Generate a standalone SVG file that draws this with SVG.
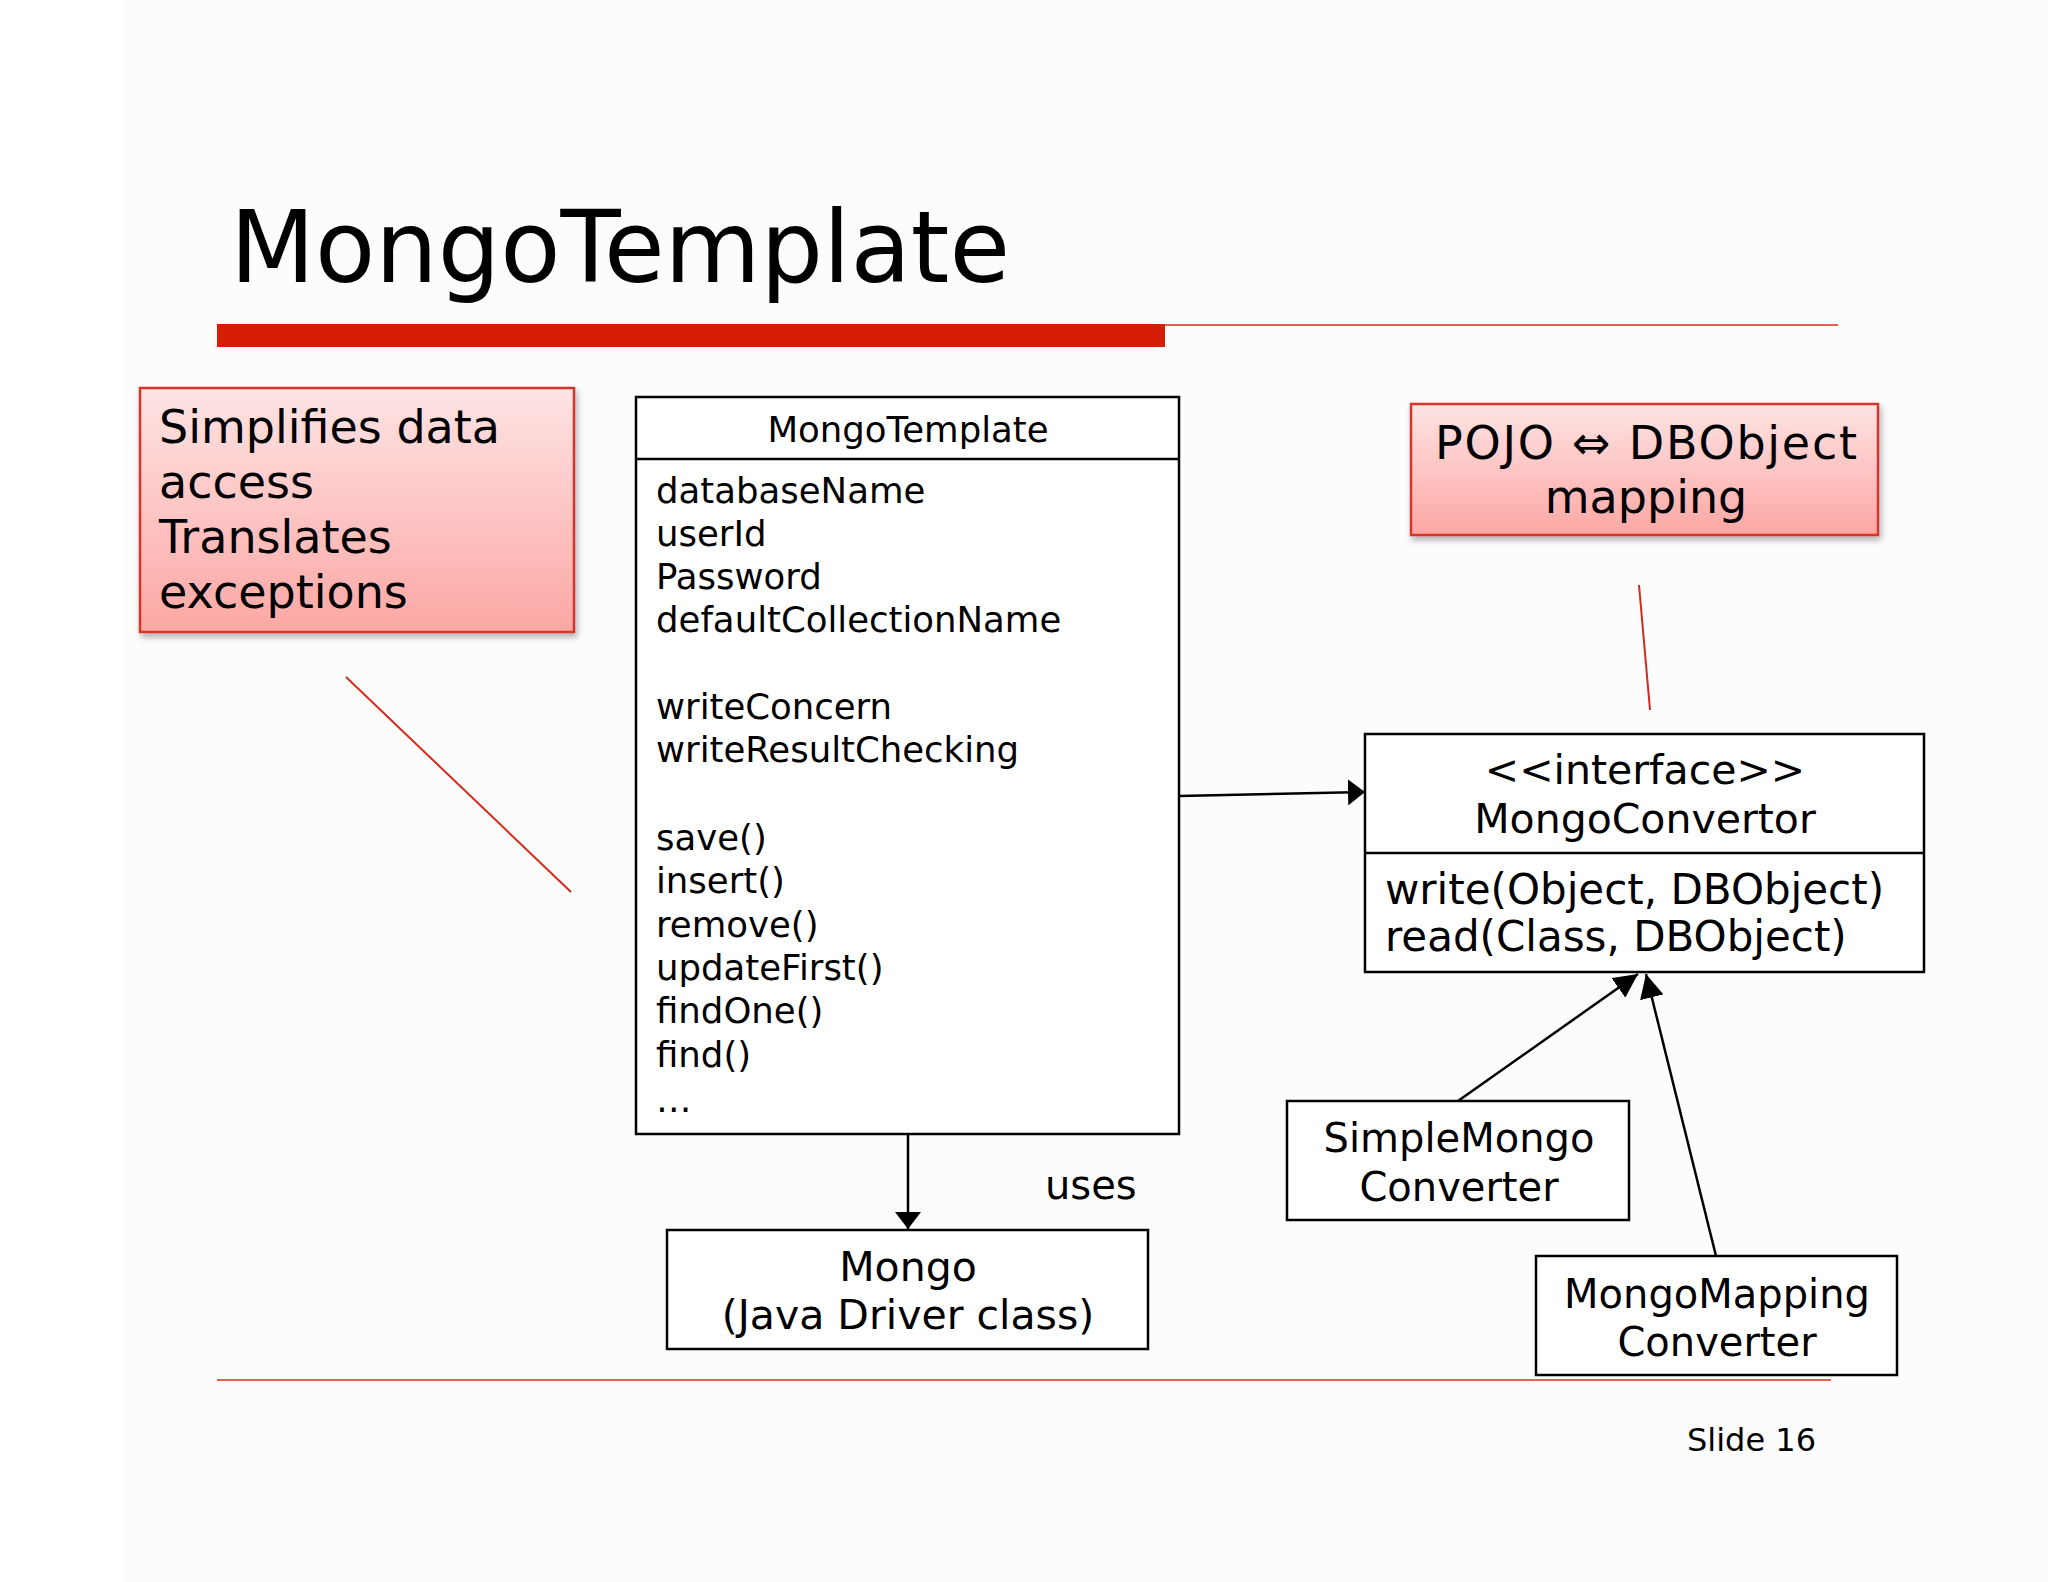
<svg xmlns="http://www.w3.org/2000/svg" width="2048" height="1582" viewBox="0 0 2048 1582">
  <defs>
    <linearGradient id="pink" x1="0" y1="0" x2="0" y2="1">
      <stop offset="0" stop-color="#fde4e4"/>
      <stop offset="1" stop-color="#fca7a4"/>
    </linearGradient>
    <filter id="shadow" x="-10%" y="-10%" width="120%" height="130%">
      <feDropShadow dx="2" dy="4" stdDeviation="3" flood-color="#000" flood-opacity="0.3"/>
    </filter>
    <marker id="headShort" markerUnits="userSpaceOnUse" markerWidth="18" markerHeight="26" refX="17" refY="13" orient="auto">
      <path d="M0,0 L17,13 L0,26 Z" fill="#000"/>
    </marker>
    <marker id="headLong" markerUnits="userSpaceOnUse" markerWidth="26" markerHeight="24" refX="24" refY="12" orient="auto">
      <path d="M0,0 L24,12 L0,24 Z" fill="#000"/>
    </marker>
    <style>
      text { font-family: "DejaVu Sans", Verdana, sans-serif; fill: #000; }
      .box { fill: #fff; stroke: #000; stroke-width: 2.5; }
      .note { fill: url(#pink); stroke: #d8362c; stroke-width: 2.5; filter: url(#shadow); }
      .conn { fill: none; stroke: #000; stroke-width: 2.5; }
      .callout { fill: none; stroke: #d42a1c; stroke-width: 2; }
      .attr { font-size: 35.5px; }
      .mid { text-anchor: middle; }
    </style>
  </defs>

  <rect x="0" y="0" width="2048" height="1582" fill="#ffffff"/>
  <rect x="125" y="0" width="1923" height="1582" fill="#fdfcfc"/>

  <!-- title -->
  <g id="title">
    <text x="230" y="282" font-size="100" textLength="780" lengthAdjust="spacingAndGlyphs">MongoTemplate</text>
    <rect x="217" y="324" width="948" height="23" fill="#d51e05"/>
    <line x1="1165" y1="325" x2="1838" y2="325" stroke="#d8301a" stroke-width="1.6"/>
  </g>

  <!-- footer -->
  <g id="footer">
    <line x1="217" y1="1380" x2="1831" y2="1380" stroke="#d8301a" stroke-width="1.6"/>
    <text x="1687" y="1451" font-size="32">Slide 16</text>
  </g>

  <!-- note: simplifies -->
  <g id="note-simplifies">
    <rect class="note" x="140" y="388" width="434" height="244"/>
    <text x="159" y="443" font-size="46">Simplifies data</text>
    <text x="159" y="498" font-size="46">access</text>
    <text x="159" y="553" font-size="46">Translates</text>
    <text x="159" y="608" font-size="46">exceptions</text>
  </g>

  <!-- note: POJO -->
  <g id="note-pojo">
    <rect class="note" x="1411" y="404" width="467" height="131"/>
    <text class="mid" x="1646" y="459" font-size="46" textLength="422" lengthAdjust="spacing">POJO ⇔ DBObject</text>
    <text class="mid" x="1646" y="513" font-size="46">mapping</text>
  </g>

  <!-- MongoTemplate class -->
  <g id="mongotemplate">
    <rect class="box" x="636" y="397" width="543" height="737"/>
    <line class="conn" x1="636" y1="459" x2="1179" y2="459"/>
    <text class="attr mid" x="908" y="442">MongoTemplate</text>
    <text class="attr" x="656" y="503">databaseName</text>
    <text class="attr" x="656" y="546">userId</text>
    <text class="attr" x="656" y="589">Password</text>
    <text class="attr" x="656" y="632">defaultCollectionName</text>
    <text class="attr" x="656" y="719">writeConcern</text>
    <text class="attr" x="656" y="762">writeResultChecking</text>
    <text class="attr" x="656" y="850">save()</text>
    <text class="attr" x="656" y="893">insert()</text>
    <text class="attr" x="656" y="937">remove()</text>
    <text class="attr" x="656" y="980">updateFirst()</text>
    <text class="attr" x="656" y="1023">findOne()</text>
    <text class="attr" x="656" y="1067">find()</text>
    <text class="attr" x="656" y="1112">…</text>
  </g>

  <!-- MongoConvertor interface -->
  <g id="mongoconvertor">
    <rect class="box" x="1365" y="734" width="559" height="238"/>
    <line class="conn" x1="1365" y1="853" x2="1924" y2="853"/>
    <text class="mid" x="1645" y="784" font-size="41">&lt;&lt;interface&gt;&gt;</text>
    <text class="mid" x="1645" y="833" font-size="41">MongoConvertor</text>
    <text x="1385" y="904" font-size="42">write(Object, DBObject)</text>
    <text x="1385" y="951" font-size="42">read(Class, DBObject)</text>
  </g>

  <!-- Mongo driver class -->
  <g id="mongo">
    <rect class="box" x="667" y="1230" width="481" height="119"/>
    <text class="mid" x="908" y="1281" font-size="41">Mongo</text>
    <text class="mid" x="908" y="1329" font-size="41">(Java Driver class)</text>
  </g>

  <!-- SimpleMongoConverter -->
  <g id="simplemongoconverter">
    <rect class="box" x="1287" y="1101" width="342" height="119"/>
    <text class="mid" x="1459" y="1152" font-size="40">SimpleMongo</text>
    <text class="mid" x="1459" y="1201" font-size="40">Converter</text>
  </g>

  <!-- MongoMappingConverter -->
  <g id="mongomappingconverter">
    <rect class="box" x="1536" y="1256" width="361" height="119"/>
    <text class="mid" x="1717" y="1308" font-size="40">MongoMapping</text>
    <text class="mid" x="1717" y="1356" font-size="40">Converter</text>
  </g>

  <!-- connectors -->
  <g id="connectors">
    <line class="conn" x1="1179" y1="796" x2="1365" y2="792" marker-end="url(#headShort)"/>
    <line class="conn" x1="908" y1="1134" x2="908" y2="1229" marker-end="url(#headShort)"/>
    <text x="1045" y="1199" font-size="40">uses</text>
    <line class="conn" x1="1458" y1="1101" x2="1638" y2="974" marker-end="url(#headLong)"/>
    <line class="conn" x1="1716" y1="1256" x2="1646" y2="974" marker-end="url(#headLong)"/>
    <line class="callout" x1="346" y1="677" x2="571" y2="892"/>
    <line class="callout" x1="1639" y1="585" x2="1650" y2="710"/>
  </g>
</svg>
